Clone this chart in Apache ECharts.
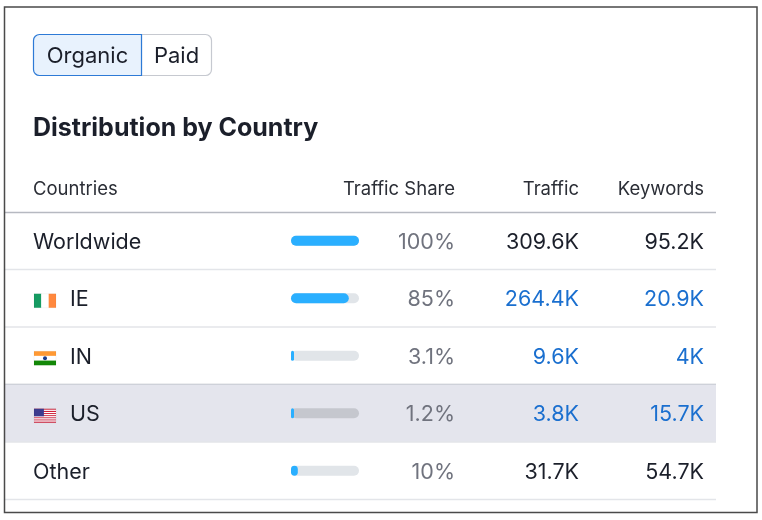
<!DOCTYPE html>
<html><head><meta charset="utf-8">
<script src="https://cdn.jsdelivr.net/npm/echarts@6/dist/echarts.min.js"></script>
<style>html,body{margin:0;padding:0;background:#fff}#c{width:762px;height:520px}</style>
</head><body><div id="c"></div>
<script>
const countries = ['Worldwide', 'IE', 'IN', 'US', 'Other'];
const shares = [100, 85, 3.1, 1.2, 10];
const shareLabels = ['100%', '85%', '3.1%', '1.2%', '10%'];
const traffic = ['309.6K', '264.4K', '9.6K', '3.8K', '31.7K'];
const keywords = ['95.2K', '20.9K', '4K', '15.7K', '54.7K'];
const flags = [null, 'IE', 'IN', 'US', null];
const linked = [false, true, true, true, false];
const highlighted = [false, false, false, true, false];
const headers = ['Countries', 'Traffic Share', 'Traffic', 'Keywords'];
const tabs = ['Organic', 'Paid'];
const title = 'Distribution by Country';

const FONT = 'Inter, "Noto Sans", sans-serif';
const ROWFONT = '21.5px ' + FONT;
const HEADFONT = '18.5px ' + FONT;
const chart = echarts.init(document.getElementById('c'));

function flagShape(code, x, y) {
  const w = 22, h = 14, ch = [];
  if (code === 'IE') {
    ['#169b62', '#ffffff', '#ff883e'].forEach((c, i) => ch.push({type: 'rect', shape: {x: x + i * w / 3, y, width: w / 3, height: h}, style: {fill: c}}));
  } else if (code === 'IN') {
    ['#ff9933', '#ffffff', '#138808'].forEach((c, i) => ch.push({type: 'rect', shape: {x, y: y + i * h / 3, width: w, height: h / 3}, style: {fill: c}}));
    ch.push({type: 'circle', shape: {cx: x + w / 2, cy: y + h / 2, r: 2}, style: {fill: '#1a3a8a'}});
  } else if (code === 'US') {
    for (let i = 0; i < 13; i++) ch.push({type: 'rect', shape: {x, y: y + i * h / 13, width: w, height: h / 13}, style: {fill: i % 2 ? '#ffffff' : '#d0213a'}});
    ch.push({type: 'rect', shape: {x, y, width: w * 0.45, height: h * 7 / 13}, style: {fill: '#3c3b8e'}});
  }
  ch.push({type: 'rect', shape: {x, y, width: w, height: h}, style: {fill: 'none', stroke: 'rgba(0,0,0,0.08)', lineWidth: 0.5}});
  return {type: 'group', children: ch};
}

const rowData = countries.map((c, i) => [0, i]);

chart.setOption({
  animation: false,
  grid: {left: 291, width: 68, top: 212, height: 287.5},
  xAxis: {type: 'value', min: 0, max: 100, show: false},
  yAxis: {type: 'category', data: countries, inverse: true, show: false},
  graphic: [
    {type: 'rect', shape: {x: 4.5, y: 7, width: 752.5, height: 505.5}, style: {fill: 'none', stroke: '#4a4a4a', lineWidth: 1.5}, z: 100},
    {type: 'rect', shape: {x: 33.5, y: 34.5, width: 108, height: 41, r: [6, 0, 0, 6]}, style: {fill: '#e8f2fd', stroke: '#2d7ad6', lineWidth: 1.2}, z: 2},
    {type: 'rect', shape: {x: 141.5, y: 34.5, width: 70, height: 41, r: [0, 6, 6, 0]}, style: {fill: '#ffffff', stroke: '#c6c9d0', lineWidth: 1.2}, z: 1},
    {type: 'text', x: 87.5, y: 56, style: {text: tabs[0], font: '22px ' + FONT, fill: '#1b1f2a', textAlign: 'center', textVerticalAlign: 'middle'}, z: 3},
    {type: 'text', x: 176.5, y: 56, style: {text: tabs[1], font: '22px ' + FONT, fill: '#1b1f2a', textAlign: 'center', textVerticalAlign: 'middle'}, z: 3},
    {type: 'text', x: 33, y: 128, style: {text: title, font: 'bold 25px ' + FONT, fill: '#1b1f2a', textVerticalAlign: 'middle'}},
    {type: 'text', x: 33, y: 189, style: {text: headers[0], font: HEADFONT, fill: '#2b2e36', textVerticalAlign: 'middle'}},
    {type: 'text', x: 455, y: 189, style: {text: headers[1], font: HEADFONT, fill: '#2b2e36', textAlign: 'right', textVerticalAlign: 'middle'}},
    {type: 'text', x: 579, y: 189, style: {text: headers[2], font: HEADFONT, fill: '#2b2e36', textAlign: 'right', textVerticalAlign: 'middle'}},
    {type: 'text', x: 704, y: 189, style: {text: headers[3], font: HEADFONT, fill: '#2b2e36', textAlign: 'right', textVerticalAlign: 'middle'}},
    {type: 'line', shape: {x1: 4, y1: 212.5, x2: 716, y2: 212.5}, style: {stroke: '#b6b9c1', lineWidth: 1.5}, z: 5}
  ],
  series: [
    {
      type: 'custom', z: 0, silent: true, data: rowData, encode: {x: 0, y: 1},
      renderItem: function (params, api) {
        const i = api.value(1);
        const cy = api.coord([0, i])[1];
        const bh = api.size([0, 1])[1];
        const top = cy - bh / 2, bot = cy + bh / 2;
        const ch = [];
        if (highlighted[i]) ch.push({type: 'rect', shape: {x: 4, y: top, width: 712, height: bh}, style: {fill: '#e4e5ed'}});
        ch.push({type: 'line', shape: {x1: 4, y1: bot, x2: 716, y2: bot}, style: {stroke: (highlighted[i + 1]) ? '#b9bcc4' : '#e3e5e9', lineWidth: 1.5}});
        return {type: 'group', children: ch};
      }
    },
    {
      type: 'bar', barWidth: 10, silent: true, z: 2,
      data: countries.map((c, i) => ({value: 100, itemStyle: {color: highlighted[i] ? '#c5c7ce' : '#e1e5e9'}})),
      itemStyle: {borderRadius: 5}
    },
    {
      type: 'bar', barWidth: 10, barGap: '-100%', silent: true, z: 3, barMinHeight: 3,
      data: shares,
      itemStyle: {color: '#2aafff', borderRadius: 5}
    },
    {
      type: 'custom', z: 4, silent: true, data: rowData, encode: {x: 0, y: 1},
      renderItem: function (params, api) {
        const i = api.value(1);
        const cy = api.coord([0, i])[1] + 1.5;
        const ch = [];
        const numColor = linked[i] ? '#1a6fcf' : '#1b1f2a';
        if (flags[i]) {
          ch.push(flagShape(flags[i], 34, cy - 6));
          ch.push({type: 'text', x: 70, y: cy, style: {text: countries[i], font: ROWFONT, fill: '#1b1f2a', textVerticalAlign: 'middle'}});
        } else {
          ch.push({type: 'text', x: 33, y: cy, style: {text: countries[i], font: ROWFONT, fill: '#1b1f2a', textVerticalAlign: 'middle'}});
        }
        ch.push({type: 'text', x: 455, y: cy, style: {text: shareLabels[i], font: ROWFONT, fill: '#70737e', textAlign: 'right', textVerticalAlign: 'middle'}});
        ch.push({type: 'text', x: 579, y: cy, style: {text: traffic[i], font: ROWFONT, fill: numColor, textAlign: 'right', textVerticalAlign: 'middle'}});
        ch.push({type: 'text', x: 704, y: cy, style: {text: keywords[i], font: ROWFONT, fill: numColor, textAlign: 'right', textVerticalAlign: 'middle'}});
        return {type: 'group', children: ch};
      }
    }
  ]
});
</script></body></html>
